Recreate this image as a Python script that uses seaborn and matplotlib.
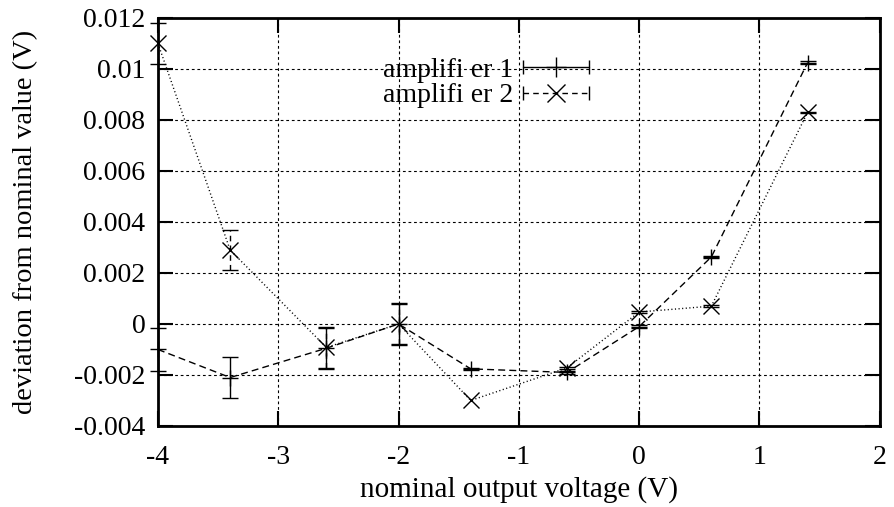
import matplotlib
matplotlib.use("Agg")
import matplotlib.pyplot as plt
import seaborn as sns
import pandas as pd
from matplotlib.lines import Line2D
from matplotlib.legend_handler import HandlerLine2D, HandlerTuple

# nominal output voltage (V)
voltage = [-4.0, -3.4, -2.6, -2.0, -1.4, -0.6, 0.0, 0.6, 1.4]

# amplifier 1
amp1_dev = [-0.0010, -0.0021, -0.00095, 0.0000, -0.00176, -0.0019, -0.0001, 0.00263, 0.01025]
amp1_err = [0.00085, 0.0008, 0.0008, 0.00083, 0.00005, 0.00005, 0.00005, 0.00005, 0.00005]

# amplifier 2
amp2_dev = [0.0110, 0.0029, -0.00092, 0.0000, -0.0030, -0.00172, 0.00047, 0.0007, 0.0083]
amp2_err = [0.0008, 0.0008, 0.0008, 0.0008, 0.0, 0.00005, 0.00005, 0.00003, 0.00003]

labels = ["amplifi er 1", "amplifi er 2"]
xticks = [-4, -3, -2, -1, 0, 1, 2]
yticks = [-0.004, -0.002, 0, 0.002, 0.004, 0.006, 0.008, 0.01, 0.012]
ytick_labels = ["-0.004", "-0.002", "0", "0.002", "0.004", "0.006", "0.008", "0.01", "0.012"]

df1 = pd.DataFrame({"voltage": voltage, "dev": amp1_dev, "err": amp1_err})
df2 = pd.DataFrame({"voltage": voltage, "dev": amp2_dev, "err": amp2_err})

sns.set_style("ticks")
plt.rcParams["font.family"] = ["Liberation Serif", "DejaVu Serif"]
plt.rcParams["axes.edgecolor"] = "black"
plt.rcParams["xtick.color"] = "black"
plt.rcParams["ytick.color"] = "black"
plt.rcParams["text.color"] = "black"
plt.rcParams["axes.labelcolor"] = "black"

fig = plt.figure(figsize=(8.95, 5.07), dpi=100)
ax = fig.add_axes([0.1765, 0.1598, 0.8065, 0.8047])

# lines + markers
sns.lineplot(data=df1, x="voltage", y="dev", ax=ax, color="black", lw=1.0,
             marker="+", markersize=12, markeredgewidth=1.0,
             markeredgecolor="black", clip_on=False, zorder=4)
ax.lines[-1].set_dashes([5, 3])
sns.lineplot(data=df2, x="voltage", y="dev", ax=ax, color="black", lw=1.0,
             marker="x", markersize=12, markeredgewidth=1.0,
             markeredgecolor="black", clip_on=False, zorder=4)
ax.lines[-1].set_dashes([0.8, 1.8])

# error bars (only where an error was measured)
e1 = df1[df1["err"] > 0]
e2 = df2[df2["err"] > 0]
eb2 = ax.errorbar(e2["voltage"], e2["dev"], yerr=e2["err"], fmt="none", ecolor="black",
                  elinewidth=1.0, capsize=6, capthick=1.0, zorder=3)
eb2[2][0].set_linestyle((0, (4, 3)))
eb1 = ax.errorbar(e1["voltage"], e1["dev"], yerr=e1["err"], fmt="none", ecolor="black",
                  elinewidth=1.0, capsize=6, capthick=1.0, zorder=3)
for eb in (eb1, eb2):
    for art in list(eb[1]) + list(eb[2]):
        art.set_clip_on(False)

ax.set_xlim(-4, 2)
ax.set_ylim(-0.004, 0.012)
ax.set_xticks(xticks)
ax.set_xticklabels([str(t) for t in xticks])
ax.set_yticks(yticks)
ax.set_yticklabels(ytick_labels)

ax.grid(True, color="black", linestyle=(0, (2.5, 2.5)), linewidth=0.8)
ax.tick_params(direction="in", length=11, width=1.5, top=True, right=True,
               labelsize=20, labelfontfamily="Liberation Serif")
ax.tick_params(axis="x", pad=14)
ax.tick_params(axis="y", pad=9)
for s in ax.spines.values():
    s.set_linewidth(2)
    s.set_visible(True)
    s.set_zorder(5)

ax.set_xlabel("nominal output voltage (V)", fontsize=21, labelpad=4)
ax.set_ylabel("deviation from nominal value (V)", fontsize=20.5, labelpad=26)

# gnuplot-like key: text, then line with capped ends and marker in the middle
h1_line = Line2D([], [], color="black", lw=1.0, marker="|", markersize=10)
h1_mark = Line2D([], [], color="black", ls="none", marker="+", markersize=14)
h2_line = Line2D([], [], color="black", lw=1.0, ls=(0, (4, 3)), marker="|", markersize=10)
h2_mark = Line2D([], [], color="black", ls="none", marker="x", markersize=13)
hmap = {
    h1_line: HandlerLine2D(numpoints=2, marker_pad=0.0),
    h2_line: HandlerLine2D(numpoints=2, marker_pad=0.0),
    h1_mark: HandlerLine2D(numpoints=1),
    h2_mark: HandlerLine2D(numpoints=1),
    tuple: HandlerTuple(ndivide=1, pad=0.0),
}
ax.legend([(h1_line, h1_mark), (h2_line, h2_mark)], labels,
          handler_map=hmap,
          loc="upper right", bbox_to_anchor=(0.5975, 0.903), frameon=False,
          markerfirst=False, handlelength=2.4, handletextpad=0.35,
          labelspacing=0.0, fontsize=20, borderaxespad=0, borderpad=0)

fig.savefig("out.png", dpi=100)
